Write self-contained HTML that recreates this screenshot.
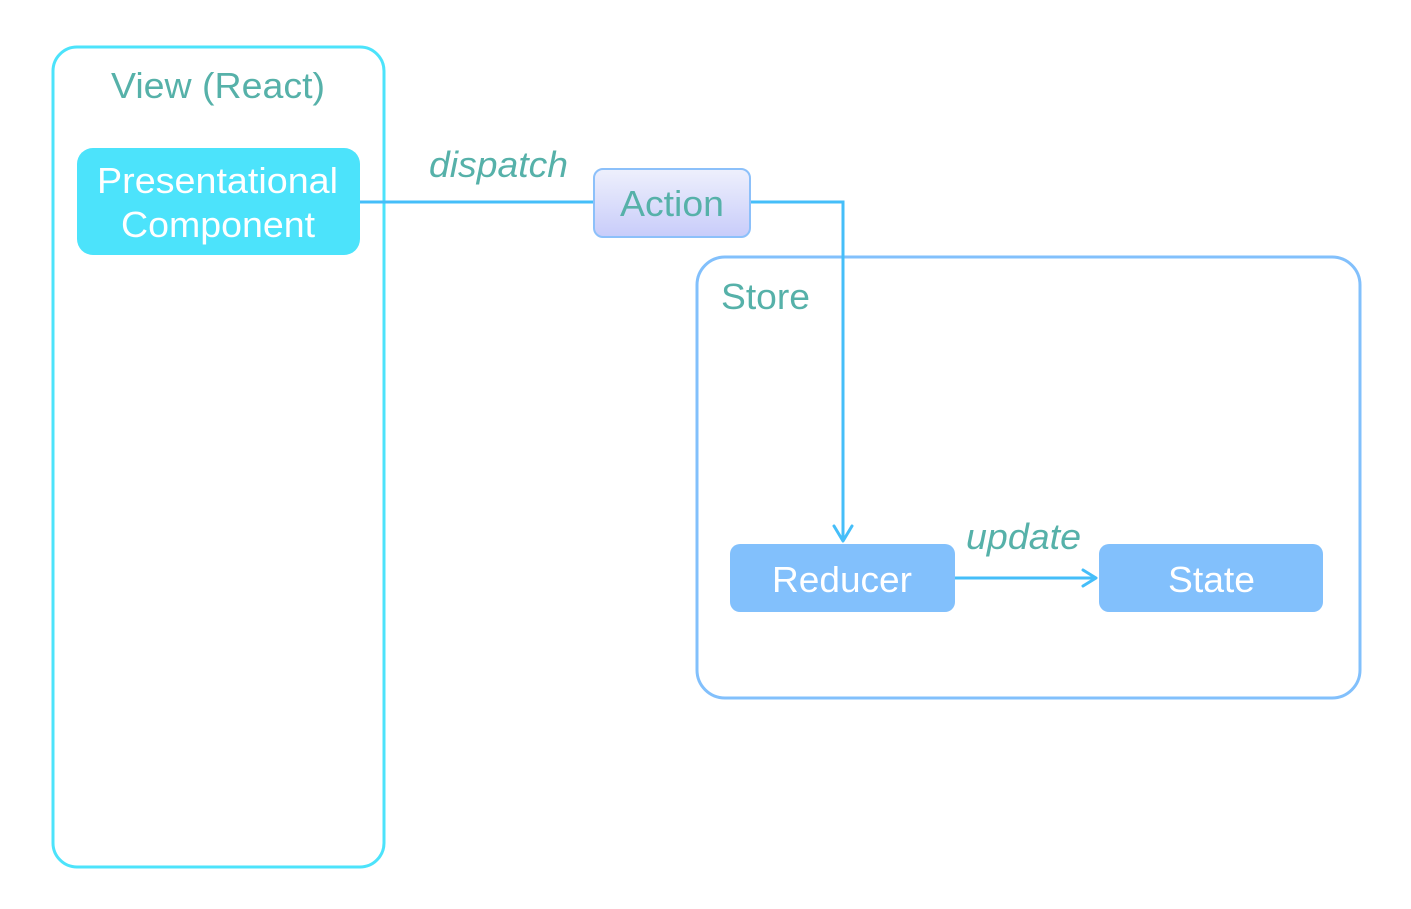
<!DOCTYPE html>
<html><head><style>body{margin:0;background:#fff}</style></head><body>
<svg width="1411" height="909" xmlns="http://www.w3.org/2000/svg" style="display:block">
<defs><linearGradient id="g" x1="0" y1="0" x2="0" y2="1"><stop offset="0" stop-color="#eef0fc"/><stop offset="1" stop-color="#c8ccfa"/></linearGradient></defs>
<g font-family="Liberation Sans, sans-serif" lengthAdjust="spacingAndGlyphs">
<rect x="53" y="47" width="331" height="820" rx="24" fill="none" stroke="#4ce3fb" stroke-width="3"/>
<text x="111" y="98" font-size="36" fill="#56b1a9" textLength="214" lengthAdjust="spacingAndGlyphs">View (React)</text>
<rect x="77" y="148" width="283" height="107" rx="16" fill="#4ce3fb"/>
<text x="97" y="193" font-size="36" fill="#fff" textLength="241" lengthAdjust="spacingAndGlyphs">Presentational</text>
<text x="121" y="237" font-size="36" fill="#fff" textLength="194" lengthAdjust="spacingAndGlyphs">Component</text>
<rect x="697" y="257" width="663" height="441" rx="28" fill="none" stroke="#82c0fc" stroke-width="3"/>
<text x="721" y="309" font-size="36" fill="#56b1a9" textLength="89" lengthAdjust="spacingAndGlyphs">Store</text>
<path d="M360 202 H594 M750 202 H843 V540" fill="none" stroke="#45bef9" stroke-width="3"/>
<path d="M834 526 L843 541 L852 526" fill="none" stroke="#45bef9" stroke-width="3" stroke-linecap="round" stroke-linejoin="round"/>
<text x="429" y="177" font-size="36" font-style="italic" fill="#56b1a9" textLength="139" lengthAdjust="spacingAndGlyphs">dispatch</text>
<rect x="594" y="169" width="156" height="68" rx="9" fill="url(#g)" stroke="#8cc0fa" stroke-width="2"/>
<text x="620" y="216" font-size="36" fill="#56b1a9" textLength="104" lengthAdjust="spacingAndGlyphs">Action</text>
<rect x="730" y="544" width="225" height="68" rx="10" fill="#82c0fc"/>
<text x="772" y="592" font-size="36" fill="#fff" textLength="140" lengthAdjust="spacingAndGlyphs">Reducer</text>
<rect x="1099" y="544" width="224" height="68" rx="10" fill="#82c0fc"/>
<text x="1168" y="592" font-size="36" fill="#fff" textLength="87" lengthAdjust="spacingAndGlyphs">State</text>
<path d="M955 578 H1096" stroke="#45bef9" stroke-width="3"/>
<path d="M1083 570 L1096 578 L1083 586" fill="none" stroke="#45bef9" stroke-width="3" stroke-linecap="round" stroke-linejoin="round"/>
<text x="966" y="549" font-size="36" font-style="italic" fill="#56b1a9" textLength="115" lengthAdjust="spacingAndGlyphs">update</text>
</g>
</svg>
</body></html>
